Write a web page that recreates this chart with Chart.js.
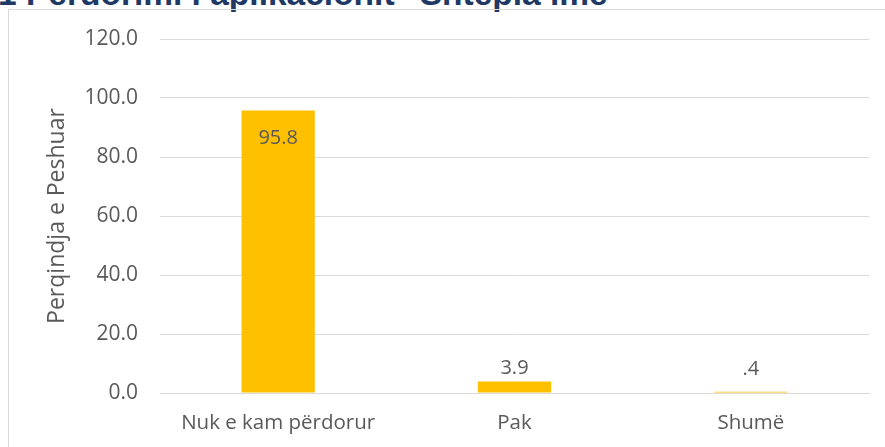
<!DOCTYPE html>
<html>
<head>
<meta charset="utf-8">
<script src="https://cdn.jsdelivr.net/npm/chart.js@4"></script>
<style>
  html, body { margin: 0; padding: 0; background: #fff; overflow: hidden; }
  #wrap { position: relative; width: 885px; height: 447px; }
  #title {
    position: absolute; left: -2px; top: -25px; white-space: nowrap;
    font: bold 33.5px "Liberation Sans", Arial, sans-serif; color: #203864;
  }
  #frame {
    position: absolute; left: 8px; top: 9px; width: 890px; height: 460px;
    border: 1px solid #d9d9d9; box-sizing: border-box;
  }
  #chart { position: absolute; left: 0; top: 0; }
</style>
</head>
<body>
<div id="wrap">
  <div id="title">1 Përdorimi i aplikacionit "Shtepia ime"</div>
  <div id="frame"></div>
  <canvas id="chart" width="885" height="447"></canvas>
</div>
<script>
const categories = ["Nuk e kam përdorur", "Pak", "Shumë"]
const values = [95.8, 3.9, 0.4]
const valueLabels = ["95.8", "3.9", ".4"]
const yTicks = [0, 20, 40, 60, 80, 100, 120]

const textColor = "#595959"
const fontFamily = "'Open Sans', 'Noto Sans', sans-serif"

// simple data label plugin: first bar inside end, others outside end
// (outside labels never sit closer than 24px to the axis, like Excel does)
const barLabels = {
    id: "barLabels",
    afterDatasetsDraw(chart) {
        const ctx = chart.ctx
        const meta = chart.getDatasetMeta(0)
        const bottom = chart.chartArea.bottom
        ctx.save()
        ctx.font = "20px " + fontFamily
        ctx.fillStyle = textColor
        ctx.textAlign = "center"
        ctx.textBaseline = "middle"
        meta.data.forEach((bar, i) => {
            const inside = values[i] > 50
            const y = inside ? bar.y + 28 : Math.min(bar.y - 13, bottom - 24)
            ctx.fillText(valueLabels[i], bar.x, y)
        })
        ctx.restore()
    }
}

new Chart(document.getElementById("chart"), {
    type: "bar",
    data: {
        labels: categories,
        datasets: [{
            data: values,
            backgroundColor: "#FFC000",
            categoryPercentage: 1,
            barPercentage: 0.31
        }]
    },
    options: {
        responsive: false,
        animation: false,
        layout: { padding: { left: 38, right: 16, top: 39, bottom: 0 } },
        plugins: { legend: { display: false }, tooltip: { enabled: false } },
        scales: {
            x: {
                grid: { display: false, drawTicks: false },
                border: { color: "#d9d9d9", width: 1 },
                ticks: { color: textColor, font: { size: 20.5, family: fontFamily }, padding: 18 },
                afterFit(s) { s.height = 54 }
            },
            y: {
                min: 0, max: 120,
                afterBuildTicks(s) { s.ticks = yTicks.map(v => ({ value: v })) },
                grid: { color: "#d9d9d9", drawTicks: false },
                border: { display: false },
                ticks: {
                    color: textColor, font: { size: 21, family: fontFamily }, padding: 22,
                    callback: v => v.toFixed(1)
                },
                title: {
                    display: true, text: "Perqindja e Peshuar", color: textColor,
                    font: { size: 23, family: fontFamily }, padding: { top: 6 }
                },
                afterFit(s) { s.width = 122 }
            }
        }
    },
    plugins: [barLabels]
})
</script>
</body>
</html>
